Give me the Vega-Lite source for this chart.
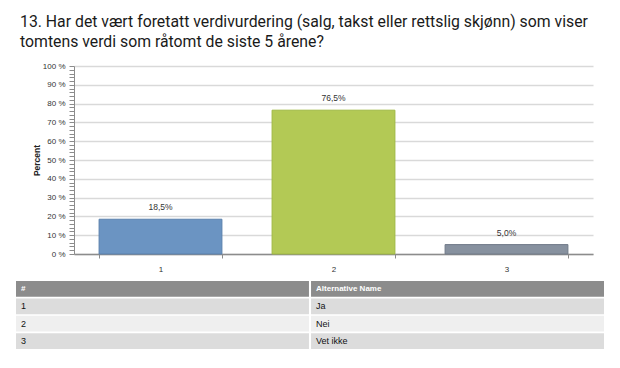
{
  "$schema": "https://vega.github.io/schema/vega-lite/v6.json",
  "background": "white",
  "padding": {"left": 16, "top": 14, "right": 14, "bottom": 10},
  "title": {
    "text": ["13. Har det vært foretatt verdivurdering (salg, takst eller rettslig skjønn) som viser", "tomtens verdi som råtomt de siste 5 årene?"],
    "anchor": "start",
    "font": "Roboto",
    "fontSize": 15.8,
    "fontWeight": "normal",
    "color": "#1a1a1a",
    "lineHeight": 20,
    "dx": 4,
    "offset": 11
  },
  "columns": 1,
  "align": "none",
  "spacing": 8,
  "resolve": {"scale": {"color": "independent", "x": "independent", "y": "independent"}},
  "concat": [
    {
      "width": 519,
      "height": 188,
      "data": {"values": [
        {"alt": "1", "value": 18.5},
        {"alt": "2", "value": 76.5},
        {"alt": "3", "value": 5.0}
      ]},
      "encoding": {
        "x": {
          "field": "alt", "type": "nominal",
          "scale": {"paddingInner": 0.29, "paddingOuter": 0.145},
          "axis": {
            "title": null, "labelAngle": 0,
            "labelFont": "Liberation Sans", "labelFontSize": 8, "labelColor": "#333333",
            "domainColor": "#8c8c8c", "domainWidth": 1.5,
            "tickColor": "#8c8c8c", "tickSize": 4, "tickBand": "extent",
            "labelPadding": 7
          }
        },
        "y": {
          "field": "value", "type": "quantitative",
          "scale": {"domain": [0, 100], "nice": false},
          "axis": {
            "title": "Percent",
            "titleX": -33, "titleY": 94,
            "titleFont": "Liberation Sans", "titleFontSize": 8.5, "titleFontWeight": "bold", "titleColor": "#222222",
            "tickCount": 50,
            "labelExpr": "datum.value % 10 === 0 ? datum.value + ' %' : ''",
            "labelOverlap": false,
            "labelFont": "Liberation Sans", "labelFontSize": 8, "labelColor": "#333333",
            "labelPadding": 4,
            "gridColor": "#d9d9d9", "gridWidth": 1.5,
            "gridOpacity": {"condition": {"test": "datum.value % 10 === 0", "value": 1}, "value": 0},
            "domainColor": "#8c8c8c", "domainWidth": 1,
            "tickColor": "#8c8c8c", "tickSize": 5,
            "minExtent": 58
          }
        }
      },
      "layer": [
        {
          "mark": {"type": "bar", "strokeWidth": 1},
          "encoding": {
            "color": {"field": "alt", "type": "nominal", "legend": null,
              "scale": {"domain": ["1", "2", "3"], "range": ["#6b94c2", "#b3c955", "#87919f"]}},
            "stroke": {"field": "alt", "type": "nominal", "legend": null,
              "scale": {"domain": ["1", "2", "3"], "range": ["#5a80ad", "#9fb842", "#707a88"]}}
          }
        },
        {
          "mark": {"type": "text", "dy": -7, "baseline": "bottom", "font": "Liberation Sans", "fontSize": 8.5, "color": "#333333",
            "text": {"expr": "replace(format(datum.value, '.1f'), '.', ',') + '%'"}},
          "encoding": {}
        }
      ]
    },
    {
      "width": 519,
      "height": 68,
      "data": {"values": [
        {"row": "h", "col": "a", "text": "#", "kind": "header"},
        {"row": "h", "col": "b", "text": "Alternative Name", "kind": "header"},
        {"row": "1", "col": "a", "text": "1", "kind": "odd"},
        {"row": "1", "col": "b", "text": "Ja", "kind": "odd"},
        {"row": "2", "col": "a", "text": "2", "kind": "even"},
        {"row": "2", "col": "b", "text": "Nei", "kind": "even"},
        {"row": "3", "col": "a", "text": "3", "kind": "odd"},
        {"row": "3", "col": "b", "text": "Vet ikke", "kind": "odd"}
      ]},
      "encoding": {
        "x": {"field": "col", "type": "nominal", "axis": null,
          "scale": {"domain": ["a", "b"], "range": [-58, 530], "paddingInner": 0.007, "paddingOuter": 0}},
        "y": {"field": "row", "type": "nominal", "axis": null,
          "scale": {"domain": ["h", "1", "2", "3"], "paddingInner": 0.1, "paddingOuter": 0}}
      },
      "layer": [
        {
          "mark": {"type": "rect"},
          "encoding": {
            "color": {"field": "kind", "type": "nominal", "legend": null,
              "scale": {"domain": ["header", "odd", "even"], "range": ["#8c8c8c", "#dcdcdc", "#efefef"]}}
          }
        },
        {
          "transform": [{"filter": "datum.kind === 'header'"}],
          "mark": {"type": "text", "align": "left", "dx": 5, "font": "Liberation Sans", "fontSize": 8, "fontWeight": "bold", "color": "#ffffff"},
          "encoding": {
            "x": {"field": "col", "type": "nominal", "bandPosition": 0},
            "text": {"field": "text"}
          }
        },
        {
          "transform": [{"filter": "datum.kind !== 'header'"}],
          "mark": {"type": "text", "align": "left", "dx": 5, "font": "Liberation Sans", "fontSize": 9, "color": "#111111"},
          "encoding": {
            "x": {"field": "col", "type": "nominal", "bandPosition": 0},
            "text": {"field": "text"}
          }
        }
      ]
    }
  ],
  "config": {"view": {"stroke": null}}
}
